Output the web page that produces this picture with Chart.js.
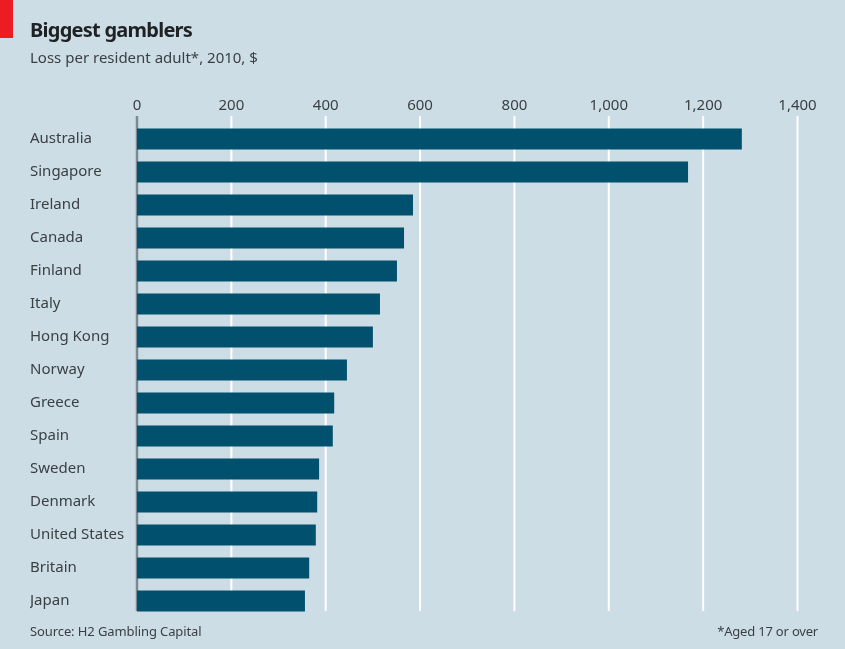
<!DOCTYPE html>
<html>
<head>
<meta charset="utf-8">
<script src="https://cdn.jsdelivr.net/npm/chart.js@4"></script>
<style>
  html, body { margin: 0; padding: 0; background: #cddde6; }
  #wrap { position: relative; width: 845px; height: 649px; overflow: hidden; font-family: "Noto Sans", sans-serif; color: #3a3f42; }
  #wrap canvas { position: absolute; left: 0; top: 0; }
  .txt { position: absolute; white-space: nowrap; }
  #flag { position: absolute; left: 0; top: 0; width: 13px; height: 38px; background: #ed1c24; }
  #title { left: 30px; top: 16px; font-size: 20px; font-weight: 700; color: #1f2224; letter-spacing: -0.75px; }
  #sub { left: 30px; top: 47px; font-size: 15px; }
  #source { left: 30px; top: 622px; font-size: 13px; letter-spacing: -0.1px; }
  #note { right: 27px; top: 622px; font-size: 13px; letter-spacing: -0.2px; }
</style>
</head>
<body>
<div id="wrap">
  <canvas id="bars" width="845" height="649"></canvas>
  <div id="flag"></div>
  <div class="txt" id="title">Biggest gamblers</div>
  <div class="txt" id="sub">Loss per resident adult*, 2010, $</div>
  <div class="txt" id="source">Source: H2 Gambling Capital</div>
  <div class="txt" id="note">*Aged 17 or over</div>
</div>
<script>
const countries = ['Australia', 'Singapore', 'Ireland', 'Canada', 'Finland', 'Italy', 'Hong Kong', 'Norway', 'Greece', 'Spain', 'Sweden', 'Denmark', 'United States', 'Britain', 'Japan'];
const losses = [1282, 1168, 585, 566, 551, 515, 500, 445, 418, 415, 386, 382, 379, 365, 356];
const xTicks = [0, 200, 400, 600, 800, 1000, 1200, 1400];

// gridlines stop short of the plot bottom and start above it, so draw them here
const gridLines = {
  id: 'gridLines',
  beforeDatasetsDraw(chart) {
    const ctx = chart.ctx;
    const x = chart.scales.x;
    ctx.save();
    xTicks.forEach(function (t) {
      ctx.beginPath();
      ctx.lineWidth = t === 0 ? 2.5 : 2;
      ctx.strokeStyle = t === 0 ? '#7d8a92' : '#ffffff';
      ctx.moveTo(x.getPixelForValue(t), 116);
      ctx.lineTo(x.getPixelForValue(t), 611);
      ctx.stroke();
    });
    ctx.restore();
  }
};

new Chart(document.getElementById('bars'), {
  type: 'bar',
  data: {
    labels: countries,
    datasets: [{
      data: losses,
      backgroundColor: '#00506e',
      barPercentage: 0.63,
      categoryPercentage: 1
    }]
  },
  options: {
    indexAxis: 'y',
    responsive: false,
    animation: false,
    layout: { padding: { left: 30, right: 47.5, top: 90, bottom: 31.5 } },
    plugins: { legend: { display: false }, tooltip: { enabled: false } },
    scales: {
      x: {
        position: 'top',
        min: 0,
        max: 1400,
        afterBuildTicks(scale) { scale.ticks = xTicks.map(v => ({ value: v })); },
        afterFit(scale) { scale.height = 32.5; },
        grid: { display: false },
        border: { display: false },
        ticks: {
          maxRotation: 0,
          padding: 0,
          color: '#3a3f42',
          font: { family: '"Noto Sans"', size: 15 },
          callback: v => v.toLocaleString('en-US')
        }
      },
      y: {
        afterFit(scale) { scale.width = 107; },
        grid: { display: false },
        border: { display: false },
        ticks: {
          crossAlign: 'far',
          autoSkip: false,
          color: '#3a3f42',
          font: { family: '"Noto Sans"', size: 15 }
        }
      }
    }
  },
  plugins: [gridLines]
});
</script>
</body>
</html>
